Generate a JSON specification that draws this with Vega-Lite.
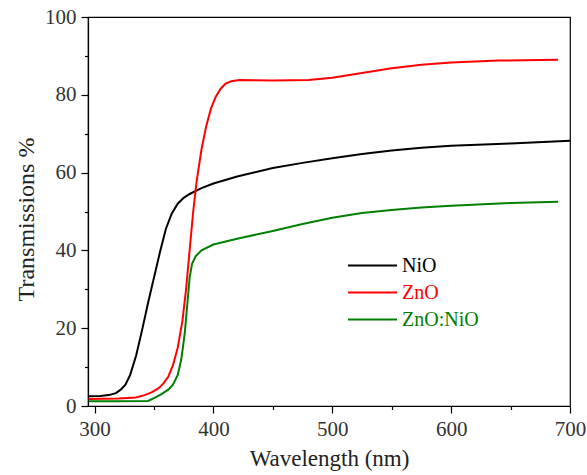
{
  "$schema": "https://vega.github.io/schema/vega-lite/v6.json",
  "width": 482,
  "height": 389,
  "autosize": "none",
  "padding": {"left": 88, "top": 17, "right": 17, "bottom": 69},
  "background": "white",
  "config": {
    "font": "Times New Roman",
    "axis": {"labelFont": "Times New Roman", "titleFont": "Times New Roman"},
    "legend": {"labelFont": "Times New Roman"},
    "view": {"stroke": "black", "strokeWidth": 1.2}
  },
  "data": {"values": [
    {"s": "NiO", "w": 295, "t": 2.5}, {"s": "NiO", "w": 305, "t": 2.6}, {"s": "NiO", "w": 312, "t": 2.8},
    {"s": "NiO", "w": 318, "t": 3.3}, {"s": "NiO", "w": 322, "t": 4.2}, {"s": "NiO", "w": 326, "t": 5.5},
    {"s": "NiO", "w": 330, "t": 8}, {"s": "NiO", "w": 335, "t": 13}, {"s": "NiO", "w": 340, "t": 19.5},
    {"s": "NiO", "w": 345, "t": 26.5}, {"s": "NiO", "w": 350, "t": 33}, {"s": "NiO", "w": 355, "t": 39.5},
    {"s": "NiO", "w": 360, "t": 45.5}, {"s": "NiO", "w": 365, "t": 49.5}, {"s": "NiO", "w": 370, "t": 52},
    {"s": "NiO", "w": 375, "t": 53.5}, {"s": "NiO", "w": 380, "t": 54.5}, {"s": "NiO", "w": 390, "t": 56},
    {"s": "NiO", "w": 400, "t": 57.2}, {"s": "NiO", "w": 420, "t": 59}, {"s": "NiO", "w": 450, "t": 61.2},
    {"s": "NiO", "w": 475, "t": 62.5}, {"s": "NiO", "w": 500, "t": 63.7}, {"s": "NiO", "w": 525, "t": 64.8},
    {"s": "NiO", "w": 550, "t": 65.7}, {"s": "NiO", "w": 575, "t": 66.4}, {"s": "NiO", "w": 600, "t": 66.9},
    {"s": "NiO", "w": 650, "t": 67.5}, {"s": "NiO", "w": 700, "t": 68.2},

    {"s": "ZnO", "w": 295, "t": 1.8}, {"s": "ZnO", "w": 320, "t": 1.9}, {"s": "ZnO", "w": 335, "t": 2.2},
    {"s": "ZnO", "w": 342, "t": 2.8}, {"s": "ZnO", "w": 348, "t": 3.5}, {"s": "ZnO", "w": 354, "t": 4.6},
    {"s": "ZnO", "w": 358, "t": 5.8}, {"s": "ZnO", "w": 362, "t": 7.5}, {"s": "ZnO", "w": 366, "t": 10.5},
    {"s": "ZnO", "w": 370, "t": 15}, {"s": "ZnO", "w": 374, "t": 22}, {"s": "ZnO", "w": 377, "t": 30},
    {"s": "ZnO", "w": 380, "t": 40}, {"s": "ZnO", "w": 383, "t": 50}, {"s": "ZnO", "w": 386, "t": 58},
    {"s": "ZnO", "w": 390, "t": 66}, {"s": "ZnO", "w": 394, "t": 72}, {"s": "ZnO", "w": 398, "t": 76.5},
    {"s": "ZnO", "w": 402, "t": 79.5}, {"s": "ZnO", "w": 406, "t": 81.5}, {"s": "ZnO", "w": 410, "t": 82.8},
    {"s": "ZnO", "w": 415, "t": 83.5}, {"s": "ZnO", "w": 422, "t": 83.8}, {"s": "ZnO", "w": 450, "t": 83.7},
    {"s": "ZnO", "w": 480, "t": 83.8}, {"s": "ZnO", "w": 500, "t": 84.4}, {"s": "ZnO", "w": 525, "t": 85.6},
    {"s": "ZnO", "w": 550, "t": 86.8}, {"s": "ZnO", "w": 575, "t": 87.7}, {"s": "ZnO", "w": 600, "t": 88.3},
    {"s": "ZnO", "w": 640, "t": 88.8}, {"s": "ZnO", "w": 690, "t": 89},

    {"s": "ZnO:NiO", "w": 295, "t": 1.2}, {"s": "ZnO:NiO", "w": 320, "t": 1.2}, {"s": "ZnO:NiO", "w": 345, "t": 1.3},
    {"s": "ZnO:NiO", "w": 350, "t": 2}, {"s": "ZnO:NiO", "w": 356, "t": 3}, {"s": "ZnO:NiO", "w": 362, "t": 4.2},
    {"s": "ZnO:NiO", "w": 366, "t": 5.5}, {"s": "ZnO:NiO", "w": 370, "t": 8}, {"s": "ZnO:NiO", "w": 373, "t": 12},
    {"s": "ZnO:NiO", "w": 376, "t": 19}, {"s": "ZnO:NiO", "w": 378, "t": 26}, {"s": "ZnO:NiO", "w": 380, "t": 33},
    {"s": "ZnO:NiO", "w": 382, "t": 36.5}, {"s": "ZnO:NiO", "w": 385, "t": 38.5}, {"s": "ZnO:NiO", "w": 390, "t": 40},
    {"s": "ZnO:NiO", "w": 400, "t": 41.5}, {"s": "ZnO:NiO", "w": 420, "t": 43}, {"s": "ZnO:NiO", "w": 450, "t": 45},
    {"s": "ZnO:NiO", "w": 475, "t": 46.8}, {"s": "ZnO:NiO", "w": 500, "t": 48.4}, {"s": "ZnO:NiO", "w": 525, "t": 49.6},
    {"s": "ZnO:NiO", "w": 550, "t": 50.4}, {"s": "ZnO:NiO", "w": 575, "t": 51}, {"s": "ZnO:NiO", "w": 600, "t": 51.5},
    {"s": "ZnO:NiO", "w": 650, "t": 52.2}, {"s": "ZnO:NiO", "w": 690, "t": 52.5}
  ]},
  "mark": {"type": "line", "strokeWidth": 2, "clip": true},
  "encoding": {
    "x": {
      "field": "w", "type": "quantitative",
      "scale": {"domain": [294.5, 700], "nice": false, "zero": false},
      "axis": {
        "title": "Wavelength (nm)", "titleFontSize": 23, "titleFontWeight": "normal", "titleColor": "#222",
        "titleFont": "Times New Roman", "labelFont": "Times New Roman",
        "titlePadding": 8,
        "values": [300, 350, 400, 450, 500, 550, 600, 650, 700],
        "labelExpr": "datum.value % 100 == 0 ? datum.label : ''",
        "labelFontSize": 21, "labelColor": "#333", "labelPadding": 5, "labelFlush": false,
        "grid": false, "domainColor": "black", "domainWidth": 1.2,
        "ticks": true, "tickColor": "black", "tickWidth": 1.2,
        "tickSize": {"condition": {"test": "datum.value % 100 == 0", "value": 7}, "value": 3.5}
      }
    },
    "y": {
      "field": "t", "type": "quantitative",
      "scale": {"domain": [0, 100], "nice": false},
      "axis": {
        "title": "Transmissions %", "titleFontSize": 24, "titleFontWeight": "normal", "titleColor": "#222",
        "titleFont": "Times New Roman", "labelFont": "Times New Roman",
        "titlePadding": 6, "titleY": 202,
        "values": [0, 10, 20, 30, 40, 50, 60, 70, 80, 90, 100],
        "labelExpr": "datum.value % 20 == 0 ? datum.label : ''",
        "labelFontSize": 21, "labelColor": "#333", "labelPadding": 5, "labelFlush": false,
        "grid": false, "domainColor": "black", "domainWidth": 1.2,
        "ticks": true, "tickColor": "black", "tickWidth": 1.2,
        "tickSize": {"condition": {"test": "datum.value % 20 == 0", "value": 7}, "value": 3.5}
      }
    },
    "color": {
      "field": "s", "type": "nominal",
      "scale": {"domain": ["NiO", "ZnO", "ZnO:NiO"], "range": ["black", "#ff0000", "#008000"]},
      "legend": {
        "title": null, "orient": "none", "legendX": 259, "legendY": 235, "padding": 0,
        "symbolType": "stroke", "symbolSize": 2400, "symbolStrokeWidth": 2,
        "clipHeight": 27, "rowPadding": 0,
        "labelFontSize": 20, "labelOffset": 4,
        "labelFont": "Times New Roman",
        "encode": {"labels": {"update": {"fill": {"signal": "datum.value == 'NiO' ? 'black' : datum.value == 'ZnO' ? '#ff0000' : '#008000'"}}}}
      }
    }
  }
}
